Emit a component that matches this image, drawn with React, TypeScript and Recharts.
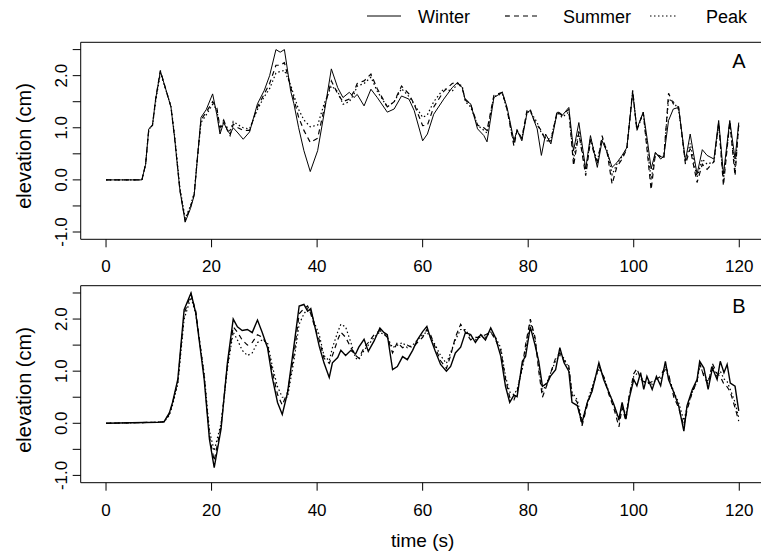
import React from 'react';
import { LineChart, Line, XAxis, YAxis, ReferenceArea } from 'recharts';

// ---------- Panel A ----------
const timeA = [
  0, 6.8, 7.5, 8.1, 8.8, 9.4, 10.3, 11.0, 12.3, 13.0,
  14.0, 15.0, 16.0, 16.7, 17.3, 18.0, 19.0, 20.2, 21.0, 21.6,
  22.3, 23.0, 23.5, 24.1, 25.0, 26.0, 27.2, 28.7, 30.0, 31.0,
  32.2, 33.0, 33.8, 35.0, 35.6, 36.5, 37.5, 38.7, 40.1, 41.3,
  42.7, 43.9, 44.9, 46.1, 47.0, 47.6, 48.9, 50.2, 51.4, 53.3,
  54.6, 56.0, 57.4, 58.4, 60.0, 60.9, 62.1, 64.0, 65.6, 66.6,
  67.5, 68.1, 69.1, 70.4, 71.6, 72.2, 73.5, 75.1, 76.0, 77.3,
  77.9, 78.8, 79.8, 80.4, 81.1, 81.7, 82.5, 83.3, 84.3, 85.5,
  86.4, 87.7, 88.6, 89.6, 90.9, 91.8, 93.1, 94.0, 95.0, 95.9,
  96.8, 97.8, 98.7, 99.8, 100.6, 101.8, 102.6, 103.3, 104.1, 105.1,
  105.7, 106.6, 107.5, 108.5, 109.8, 110.7, 112.0, 113.0, 113.9, 115.2,
  116.1, 117.0, 118.2, 119.2, 119.9,
];
const winterA = [
  0, 0, 0.3, 0.98, 1.05, 1.55, 2.09, 1.85, 1.4, 0.8,
  -0.2, -0.81, -0.55, -0.3, 0.4, 1.2, 1.35, 1.65, 1.25, 0.88,
  1.1, 0.95, 0.88, 1.0, 0.9, 0.78, 0.92, 1.46, 1.72, 2.0,
  2.5, 2.45, 2.5, 1.7, 1.46, 1.0, 0.56, 0.16, 0.56, 1.26,
  2.13, 1.77, 1.58, 1.68, 1.58, 1.64, 1.42, 1.74, 1.58, 1.3,
  1.36, 1.61, 1.55, 1.33, 0.75, 0.88, 1.26, 1.55, 1.77, 1.87,
  1.77, 1.52, 1.46, 0.98, 0.85, 0.73, 1.58, 1.68, 1.39, 0.75,
  0.95, 0.75, 1.3, 1.33, 1.14, 0.98, 0.47, 0.88, 0.69, 1.3,
  1.23, 1.39, 0.56, 1.1, 0.21, 0.85, 0.24, 0.75, 0.52, 0.24,
  0.33, 0.47, 0.62, 1.68, 0.98, 1.3, 0.75, 0.21, 0.53, 0.4,
  0.45, 1.14, 1.36, 1.39, 0.37, 0.88, 0.11, 0.58, 0.47, 0.4,
  1.14, 0.11, 1.14, 0.4, 1.1,
];
const summerA = [
  0, 0, 0.3, 0.97, 1.05, 1.55, 2.1, 1.85, 1.4, 0.8,
  -0.2, -0.78, -0.52, -0.28, 0.4, 1.15, 1.3, 1.5, 1.38, 1.0,
  1.15, 0.95, 0.85, 1.07, 1.0, 0.95, 0.95, 1.4, 1.65, 1.85,
  2.2, 2.2, 2.25, 1.78, 1.55, 1.2, 0.95, 0.72, 0.8, 1.35,
  1.9, 1.65, 1.5, 1.55, 1.7, 1.85, 1.9, 2.03, 1.75, 1.4,
  1.5, 1.8, 1.65, 1.45, 1.04, 1.05, 1.4, 1.7, 1.85, 1.87,
  1.75, 1.55, 1.45, 1.05, 1.0, 0.95, 1.62, 1.68, 1.35, 0.65,
  0.95, 0.8, 1.35, 1.35, 1.15, 1.05, 0.95, 0.75, 0.75, 1.32,
  1.25, 1.35, 0.27, 0.9, 0.08, 0.75, 0.3, 0.85, 0.5, -0.08,
  0.25, 0.4, 0.6, 1.72, 0.95, 1.3, 0.5, -0.19, 0.5, 0.45,
  0.4, 1.66, 1.46, 1.4, 0.3, 0.6, -0.05, 0.3, 0.2, 0.35,
  1.1, -0.11, 1.12, 0.08, 1.08,
];
const peakA = [
  0, 0, 0.3, 0.97, 1.04, 1.5, 2.05, 1.83, 1.42, 0.85,
  -0.15, -0.74, -0.5, -0.25, 0.4, 1.1, 1.25, 1.45, 1.35, 0.95,
  1.12, 1.0, 0.92, 1.12, 1.06, 1.0, 0.98, 1.35, 1.6, 1.75,
  2.05, 2.08, 2.1, 1.82, 1.62, 1.35, 1.15, 1.02, 1.05, 1.45,
  1.8, 1.7, 1.45, 1.5, 1.65, 1.8, 1.85, 1.97, 1.7, 1.4,
  1.5, 1.75, 1.6, 1.45, 1.2, 1.25, 1.5, 1.75, 1.7, 1.85,
  1.8, 1.5, 1.4, 1.05, 0.95, 0.9, 1.6, 1.65, 1.35, 0.7,
  0.95, 0.8, 1.3, 1.3, 1.2, 1.1, 0.9, 0.8, 0.78, 1.3,
  1.2, 1.3, 0.4, 0.95, 0.15, 0.8, 0.35, 0.8, 0.55, 0.1,
  0.3, 0.45, 0.6, 1.7, 0.95, 1.28, 0.6, 0.0, 0.5, 0.45,
  0.45, 1.55, 1.5, 1.35, 0.35, 0.7, 0.05, 0.4, 0.3, 0.35,
  1.05, 0.0, 1.1, 0.2, 1.05,
];

// ---------- Panel B ----------
const timeB = [
  0, 9.8, 11.0, 12.0, 12.6, 13.6, 14.8, 16.1, 17.0, 18.6,
  19.6, 20.5, 21.8, 23.0, 24.1, 24.9, 25.8, 26.8, 27.7, 28.7,
  29.6, 30.6, 31.5, 32.5, 33.4, 34.4, 35.6, 36.6, 37.5, 38.2,
  38.8, 39.4, 40.4, 41.3, 42.3, 42.9, 43.9, 44.5, 45.4, 46.4,
  47.3, 47.9, 48.9, 49.7, 50.8, 51.9, 52.7, 53.3, 54.3, 55.2,
  56.2, 57.1, 58.1, 59.0, 60.0, 60.8, 61.5, 62.4, 63.4, 64.5,
  65.3, 66.2, 67.2, 68.1, 69.1, 70.0, 71.0, 71.9, 72.9, 73.8,
  74.8, 75.7, 76.5, 77.3, 77.9, 78.9, 79.5, 80.4, 81.3, 82.0,
  82.7, 83.6, 84.2, 85.2, 86.0, 86.8, 87.7, 88.3, 89.3, 90.2,
  91.2, 92.1, 93.4, 94.3, 95.3, 96.2, 97.2, 97.8, 98.5, 99.1,
  100.0, 100.6, 101.3, 101.9, 102.5, 103.5, 104.3, 105.1, 106.0, 106.6,
  107.6, 108.5, 109.5, 110.1, 111.1, 112.0, 112.5, 113.3, 114.1, 114.9,
  115.8, 116.4, 117.1, 117.7, 118.3, 119.2, 119.9,
];
const winterB = [
  0, 0.02, 0.03, 0.2, 0.4, 0.84, 2.18, 2.5, 2.12, 0.84,
  -0.31, -0.85, -0.11, 1.16, 2.0, 1.85, 1.78, 1.8, 1.74, 1.98,
  1.74, 1.45, 0.88, 0.4, 0.17, 0.59, 1.48, 2.25, 2.28, 2.15,
  2.2, 1.93, 1.48, 1.16, 0.88, 1.16, 1.26, 1.4, 1.3, 1.4,
  1.33, 1.46, 1.61, 1.38, 1.58, 1.83, 1.74, 1.7, 1.03, 1.09,
  1.28, 1.22, 1.4, 1.6, 1.76, 1.86, 1.63, 1.38, 1.13, 1.0,
  1.09, 1.35, 1.46, 1.74, 1.7, 1.55, 1.7, 1.6, 1.83, 1.64,
  1.29, 0.71, 0.4, 0.54, 0.51, 1.19, 1.28, 1.85, 1.5, 1.19,
  0.71, 0.77, 0.9, 1.03, 1.45, 1.16, 1.0, 0.4, 0.34, 0.01,
  0.4, 0.61, 1.16, 0.84, 0.59, 0.37, 0.08, 0.4, 0.08, 0.46,
  0.84, 0.72, 0.97, 0.65, 0.9, 0.65, 0.9, 0.72, 1.19, 0.84,
  0.59, 0.34, -0.15, 0.34, 0.65, 0.84, 1.19, 1.06, 0.65, 1.06,
  0.84, 1.19, 0.97, 1.13, 0.77, 0.71, 0.24,
];
const summerB = [
  0, 0.02, 0.03, 0.18, 0.38, 0.8, 2.1, 2.48, 2.15, 0.9,
  -0.25, -0.72, -0.05, 1.1, 1.85, 1.75, 1.6, 1.5, 1.55, 1.7,
  1.65, 1.5, 1.0, 0.55, 0.35, 0.6, 1.3, 2.1, 2.2, 2.25,
  2.1, 1.9, 1.6, 1.25, 1.15, 1.3, 1.6, 1.75, 1.65, 1.45,
  1.3, 1.25, 1.45, 1.55, 1.7, 1.78, 1.72, 1.65, 1.35, 1.55,
  1.45, 1.5, 1.45, 1.55, 1.65, 1.8, 1.7, 1.45, 1.2, 1.05,
  1.3, 1.65, 1.9, 1.75, 1.6, 1.65, 1.65, 1.7, 1.75, 1.6,
  1.4, 0.85, 0.5, 0.45, 0.6, 1.1, 1.5, 2.0, 1.65, 1.0,
  0.5, 0.75, 0.95, 1.25, 1.35, 1.2, 1.1, 0.55, 0.4, -0.05,
  0.35, 0.65, 1.1, 0.9, 0.55, 0.3, -0.07, 0.3, 0.05, 0.5,
  0.95, 1.05, 0.85, 0.8, 0.75, 0.8, 0.85, 0.9, 1.1, 0.95,
  0.5, 0.3, -0.05, 0.25, 0.6, 0.8, 1.15, 0.9, 0.75, 1.15,
  0.95, 0.9, 0.75, 0.7, 0.6, 0.3, 0.04,
];
const peakB = [
  0, 0.02, 0.03, 0.15, 0.35, 0.75, 2.0, 2.42, 2.1, 0.95,
  -0.15, -0.53, 0.0, 1.05, 1.75, 1.6, 1.4, 1.3, 1.35, 1.55,
  1.6, 1.55, 1.1, 0.7, 0.5, 0.5, 1.2, 1.9, 2.1, 2.2,
  2.15, 1.95, 1.7, 1.3, 1.2, 1.45, 1.75, 1.9, 1.85, 1.55,
  1.25, 1.22, 1.4, 1.5, 1.65, 1.75, 1.7, 1.65, 1.45, 1.5,
  1.55, 1.45, 1.5, 1.6, 1.7, 1.75, 1.65, 1.5, 1.3, 1.15,
  1.35, 1.6, 1.8, 1.8, 1.65, 1.6, 1.7, 1.65, 1.75, 1.65,
  1.45, 0.9, 0.6, 0.55, 0.65, 1.05, 1.4, 1.95, 1.6, 1.1,
  0.6, 0.8, 0.95, 1.2, 1.3, 1.25, 1.05, 0.6, 0.45, 0.05,
  0.4, 0.7, 1.05, 0.9, 0.6, 0.35, 0.05, 0.35, 0.15, 0.5,
  0.9, 0.95, 0.9, 0.8, 0.8, 0.75, 0.85, 0.85, 1.05, 0.9,
  0.6, 0.4, 0.05, 0.3, 0.6, 0.8, 1.1, 0.95, 0.8, 1.1,
  0.9, 1.0, 0.85, 0.8, 0.65, 0.4, 0.1,
];

// ---------- Axes / labels ----------
const xTicks = [0, 20, 40, 60, 80, 100, 120];
const yTicks = [-1, -0.5, 0, 0.5, 1, 1.5, 2, 2.5];
const seriesNames = ['Winter', 'Summer', 'Peak'];
const panelLetters = ['A', 'B'];
const xTitle = 'time (s)';
const yTitle = 'elevation (cm)';
const X_DOMAIN: [number, number] = [-4.8, 124.8];
const Y_DOMAIN: [number, number] = [-1.14, 2.64];

const FONT = '"Liberation Sans", Arial, Helvetica, sans-serif';

function XTick(props: any) {
  const { x, y, payload } = props;
  return (
    <text x={x} y={y + 25} textAnchor="middle" fontSize={17} fontFamily={FONT} fill="#000">
      {payload.value}
    </text>
  );
}

function YTick(props: any) {
  const { x, y, payload } = props;
  const v = payload.value as number;
  if (!Number.isInteger(v)) return <g />;
  const bx = x - 6;
  return (
    <text
      x={bx}
      y={y}
      transform={`rotate(-90 ${bx} ${y})`}
      textAnchor="middle"
      fontSize={17}
      fontFamily={FONT}
      fill="#000"
    >
      {v.toFixed(1)}
    </text>
  );
}

type PanelProps = {
  time: number[];
  winter: number[];
  summer: number[];
  peak: number[];
  top: number;
  height: number;
  marginTop: number;
  xAxisHeight: number;
  winterWidth: number;
};

function Panel({ time, winter, summer, peak, top, height, marginTop, xAxisHeight, winterWidth }: PanelProps) {
  const data = time.map((t, i) => ({ t, winter: winter[i], summer: summer[i], peak: peak[i] }));
  return (
    <div style={{ position: 'absolute', left: 0, top }}>
      <LineChart
        width={775}
        height={height}
        data={data}
        margin={{ top: marginTop, right: 10.4, bottom: 0, left: 0 }}
      >
        <ReferenceArea
          x1={X_DOMAIN[0]}
          x2={X_DOMAIN[1]}
          y1={Y_DOMAIN[0]}
          y2={Y_DOMAIN[1]}
          fill="none"
          fillOpacity={0}
          stroke="#000"
          strokeWidth={1}
          ifOverflow="visible"
        />
        <XAxis
          dataKey="t"
          type="number"
          domain={X_DOMAIN}
          ticks={xTicks}
          interval={0}
          allowDataOverflow
          axisLine={false}
          tickLine={{ stroke: '#000', strokeWidth: 1 }}
          tickSize={8}
          tickMargin={0}
          tick={XTick}
          height={xAxisHeight}
        />
        <YAxis
          type="number"
          domain={Y_DOMAIN}
          ticks={yTicks}
          interval={0}
          allowDataOverflow
          axisLine={false}
          tickLine={{ stroke: '#000', strokeWidth: 1 }}
          tickSize={8}
          tickMargin={0}
          tick={YTick}
          width={80.7}
        />
        <Line type="linear" dataKey="peak" stroke="#000" strokeWidth={1.2} strokeDasharray="1.5 2.5" dot={false} isAnimationActive={false} />
        <Line type="linear" dataKey="summer" stroke="#000" strokeWidth={1.2} strokeDasharray="5 4" dot={false} isAnimationActive={false} />
        <Line type="linear" dataKey="winter" stroke="#000" strokeWidth={winterWidth} dot={false} isAnimationActive={false} />
      </LineChart>
    </div>
  );
}

export default function App() {
  return (
    <div
      style={{
        position: 'absolute',
        left: 0,
        top: 0,
        width: 761,
        height: 552,
        overflow: 'hidden',
        background: '#fff',
        fontFamily: FONT,
      }}
    >
      <Panel time={timeA} winter={winterA} summer={summerA} peak={peakA} top={0} height={279.3} marginTop={42.3} xAxisHeight={40} winterWidth={1} />
      <Panel time={timeB} winter={winterB} summer={summerB} peak={peakB} top={244} height={308} marginTop={41.7} xAxisHeight={69.3} winterWidth={1.4} />
      <svg
        width={761}
        height={552}
        style={{ position: 'absolute', left: 0, top: 0, pointerEvents: 'none' }}
        fontFamily={FONT}
      >
        {/* legend */}
        <line x1={367} y1={16} x2={401} y2={16} stroke="#000" strokeWidth={1} />
        <text x={418} y={22.5} fontSize={18} fill="#000">{seriesNames[0]}</text>
        <line x1={505} y1={16} x2={541} y2={16} stroke="#000" strokeWidth={1.2} strokeDasharray="5 4" />
        <text x={563} y={22.5} fontSize={18} fill="#000">{seriesNames[1]}</text>
        <line x1={650} y1={16} x2={678} y2={16} stroke="#000" strokeWidth={1.2} strokeDasharray="1.5 2.5" />
        <text x={706} y={22.5} fontSize={18} fill="#000">{seriesNames[2]}</text>
        {/* panel letters */}
        <text x={739} y={68} fontSize={20} textAnchor="middle" fill="#000">{panelLetters[0]}</text>
        <text x={739} y={313} fontSize={20} textAnchor="middle" fill="#000">{panelLetters[1]}</text>
        {/* y titles */}
        <text x={31} y={146} fontSize={20} textAnchor="middle" transform="rotate(-90 31 146)" fill="#000">{yTitle}</text>
        <text x={31} y={390} fontSize={20} textAnchor="middle" transform="rotate(-90 31 390)" fill="#000">{yTitle}</text>
        {/* x title */}
        <text x={422.7} y={547} fontSize={19} textAnchor="middle" fill="#000">{xTitle}</text>
      </svg>
    </div>
  );
}
